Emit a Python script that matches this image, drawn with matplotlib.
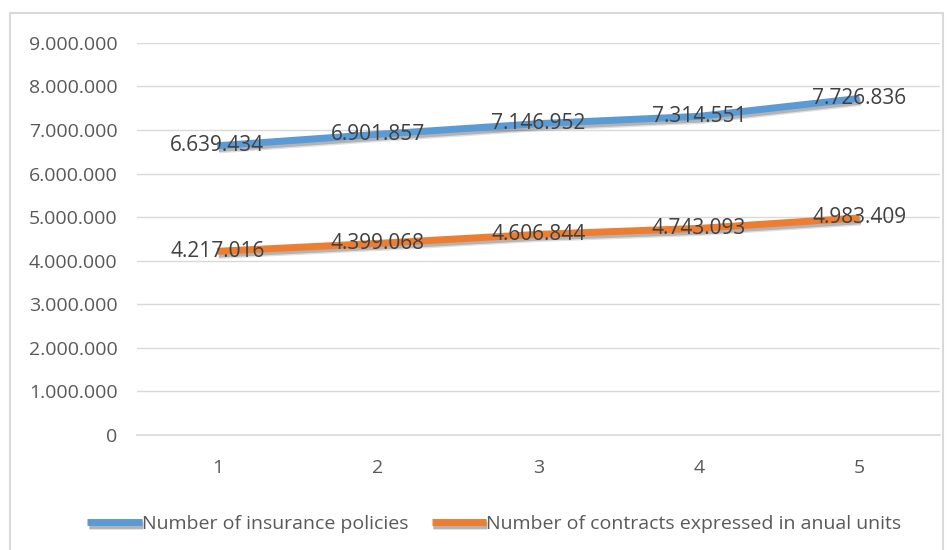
import matplotlib.pyplot as plt
import matplotlib.patheffects as pe
from matplotlib.patches import Rectangle
from matplotlib.ticker import FuncFormatter

periods = [1, 2, 3, 4, 5]
policies = [6639434, 6901857, 7146952, 7314551, 7726836]
contracts = [4217016, 4399068, 4606844, 4743093, 4983409]
series_names = ['Number of insurance policies',
                'Number of contracts expressed in anual units']


def dotted(v, pos=None):
    return f'{int(v):,}'.replace(',', '.')


plt.rcParams['font.family'] = ['Open Sans', 'DejaVu Sans']

fig = plt.figure(figsize=(9.52, 5.5), dpi=100)
ax = fig.add_axes([0.144, 0.209, 0.843, 0.713])

# chart border
fig.patches.append(Rectangle((0.011, -0.01), 0.98, 0.987, transform=fig.transFigure,
                             fill=False, edgecolor='#d9d9d9', linewidth=1.5))

shadow = [pe.SimpleLineShadow(offset=(1.0, -2.0), shadow_color='#000000', alpha=0.12,
                              linewidth=7),
          pe.SimpleLineShadow(offset=(1.0, -2.0), shadow_color='#000000', alpha=0.2),
          pe.Normal()]
colors = ['#5b9bd5', '#ed7d31']
for vals, name, c in zip([policies, contracts], series_names, colors):
    ax.plot(periods, vals, color=c, linewidth=5, label=name,
            solid_capstyle='butt', path_effects=shadow)
    for x, y in zip(periods, vals):
        ax.text(x, y, dotted(y), ha='center', va='center', fontsize=15, color='#404040')

ax.set_xlim(0.5, 5.5)
ax.set_ylim(0, 9000000)
ax.set_yticks(range(0, 9000001, 1000000))
ax.yaxis.set_major_formatter(FuncFormatter(dotted))
ax.set_xticks(periods)
ax.grid(axis='y', color='#d9d9d9', linewidth=1)
ax.set_axisbelow(True)
for s in ['top', 'right', 'left']:
    ax.spines[s].set_visible(False)
ax.spines['bottom'].set_color('#d9d9d9')
ax.spines['bottom'].set_linewidth(1.2)
ax.tick_params(length=0, labelsize=14, colors='#595959', pad=17)
ax.tick_params(axis='y', pad=14)

ax.legend(loc='upper center', bbox_to_anchor=(0.445, -0.16), ncol=2, frameon=False,
          fontsize=14, labelcolor='#595959', handlelength=2.8, handletextpad=0.0,
          columnspacing=1.2)

fig.savefig('out.png', dpi=100)
